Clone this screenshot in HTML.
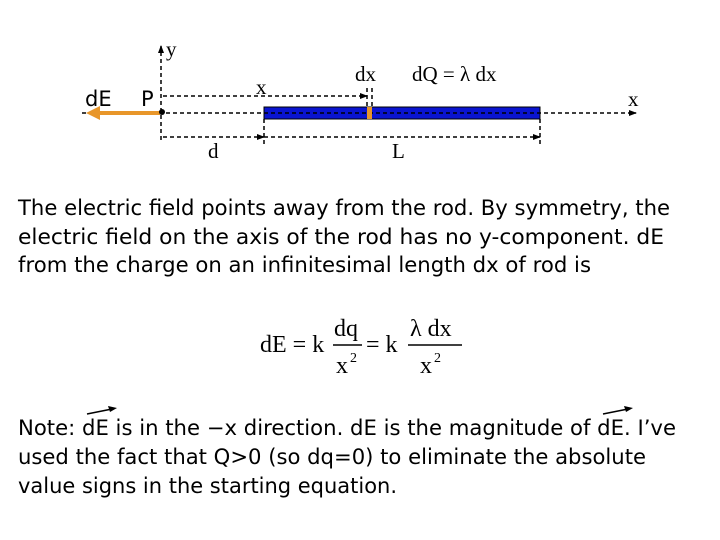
<!DOCTYPE html>
<html><head><meta charset="utf-8"><style>html,body{margin:0;padding:0;background:#fff}svg{display:block}</style></head><body>
<svg width="720" height="540" viewBox="0 0 720 540" xmlns="http://www.w3.org/2000/svg">
<defs>
<marker id="a" markerWidth="8" markerHeight="8" refX="7" refY="4" orient="auto" markerUnits="userSpaceOnUse"><path d="M0,1 L8,4 L0,7 z" fill="#000"/></marker>
</defs>
<g stroke="#000" stroke-width="1.5" stroke-dasharray="4,3" fill="none">
<line x1="161" y1="140" x2="161" y2="46" marker-end="url(#a)"/>
<line x1="82" y1="113" x2="636" y2="113" marker-end="url(#a)"/>
<line x1="163" y1="96" x2="367" y2="96" marker-end="url(#a)"/>
<line x1="163" y1="137" x2="264" y2="137" marker-end="url(#a)"/>
<line x1="264" y1="137" x2="540" y2="137" marker-end="url(#a)"/>
<line x1="367" y1="88" x2="367" y2="108"/>
<line x1="372" y1="88" x2="372" y2="108"/>
<line x1="264" y1="119" x2="264" y2="146"/>
<line x1="540" y1="119" x2="540" y2="146"/>
</g>
<rect x="264" y="107" width="276" height="12" fill="#0a14d0" stroke="#000" stroke-width="1"/>
<line x1="264" y1="113" x2="540" y2="113" stroke="#000" stroke-width="1.5" stroke-dasharray="4,3"/>
<rect x="367" y="107" width="5" height="12" fill="#e8962a"/>
<line x1="160" y1="113" x2="96" y2="113" stroke="#e8962a" stroke-width="4"/>
<path d="M86,113 L100,106 L100,120 z" fill="#e8962a"/>
<circle cx="162" cy="112" r="3" fill="#000"/>
<g font-family="Liberation Serif, serif" font-size="21" fill="#000">
<text x="166" y="56">y</text>
<text x="256" y="94">x</text>
<text x="355" y="81">dx</text>
<text x="412" y="81">dQ = λ dx</text>
<text x="628" y="106">x</text>
<text x="208" y="158">d</text>
<text x="392" y="158">L</text>
</g>
<g font-family="DejaVu Sans, sans-serif" font-size="21" fill="#000">
<text x="85" y="106">dE</text>
<text x="141" y="106">P</text>
<text x="18" y="215" textLength="652" lengthAdjust="spacingAndGlyphs">The electric field points away from the rod. By symmetry, the</text>
<text x="18" y="244" textLength="646" lengthAdjust="spacingAndGlyphs">electric field on the axis of the rod has no y-component. dE</text>
<text x="18" y="272" textLength="573" lengthAdjust="spacingAndGlyphs">from the charge on an infinitesimal length dx of rod is</text>
<text x="18" y="435" textLength="658" lengthAdjust="spacingAndGlyphs">Note: dE is in the −x direction. dE is the magnitude of dE. I’ve</text>
<text x="18" y="464" textLength="628" lengthAdjust="spacingAndGlyphs">used the fact that Q&gt;0 (so dq=0) to eliminate the absolute</text>
<text x="18" y="493" textLength="379" lengthAdjust="spacingAndGlyphs">value signs in the starting equation.</text>
</g>
<g stroke="#000" stroke-width="1.5">
<line x1="87" y1="414" x2="112" y2="409"/><line x1="603" y1="414" x2="628" y2="409"/>
</g>
<path d="M117,408 L108,406 L110,412 z M633,408 L624,406 L626,412 z" fill="#000"/>
<g font-family="Liberation Serif, serif" font-size="24" fill="#000">
<text x="260" y="352">dE = k</text>
<text x="334" y="336">dq</text>
<line x1="333" y1="345" x2="362" y2="345" stroke="#000" stroke-width="1.5"/>
<text x="336" y="373">x</text><text x="350" y="362" font-size="14">2</text>
<text x="366" y="352">= k</text>
<text x="410" y="336">λ  dx</text>
<line x1="408" y1="345" x2="462" y2="345" stroke="#000" stroke-width="1.5"/>
<text x="420" y="373">x</text><text x="434" y="362" font-size="14">2</text>
</g>
</svg>
</body></html>
